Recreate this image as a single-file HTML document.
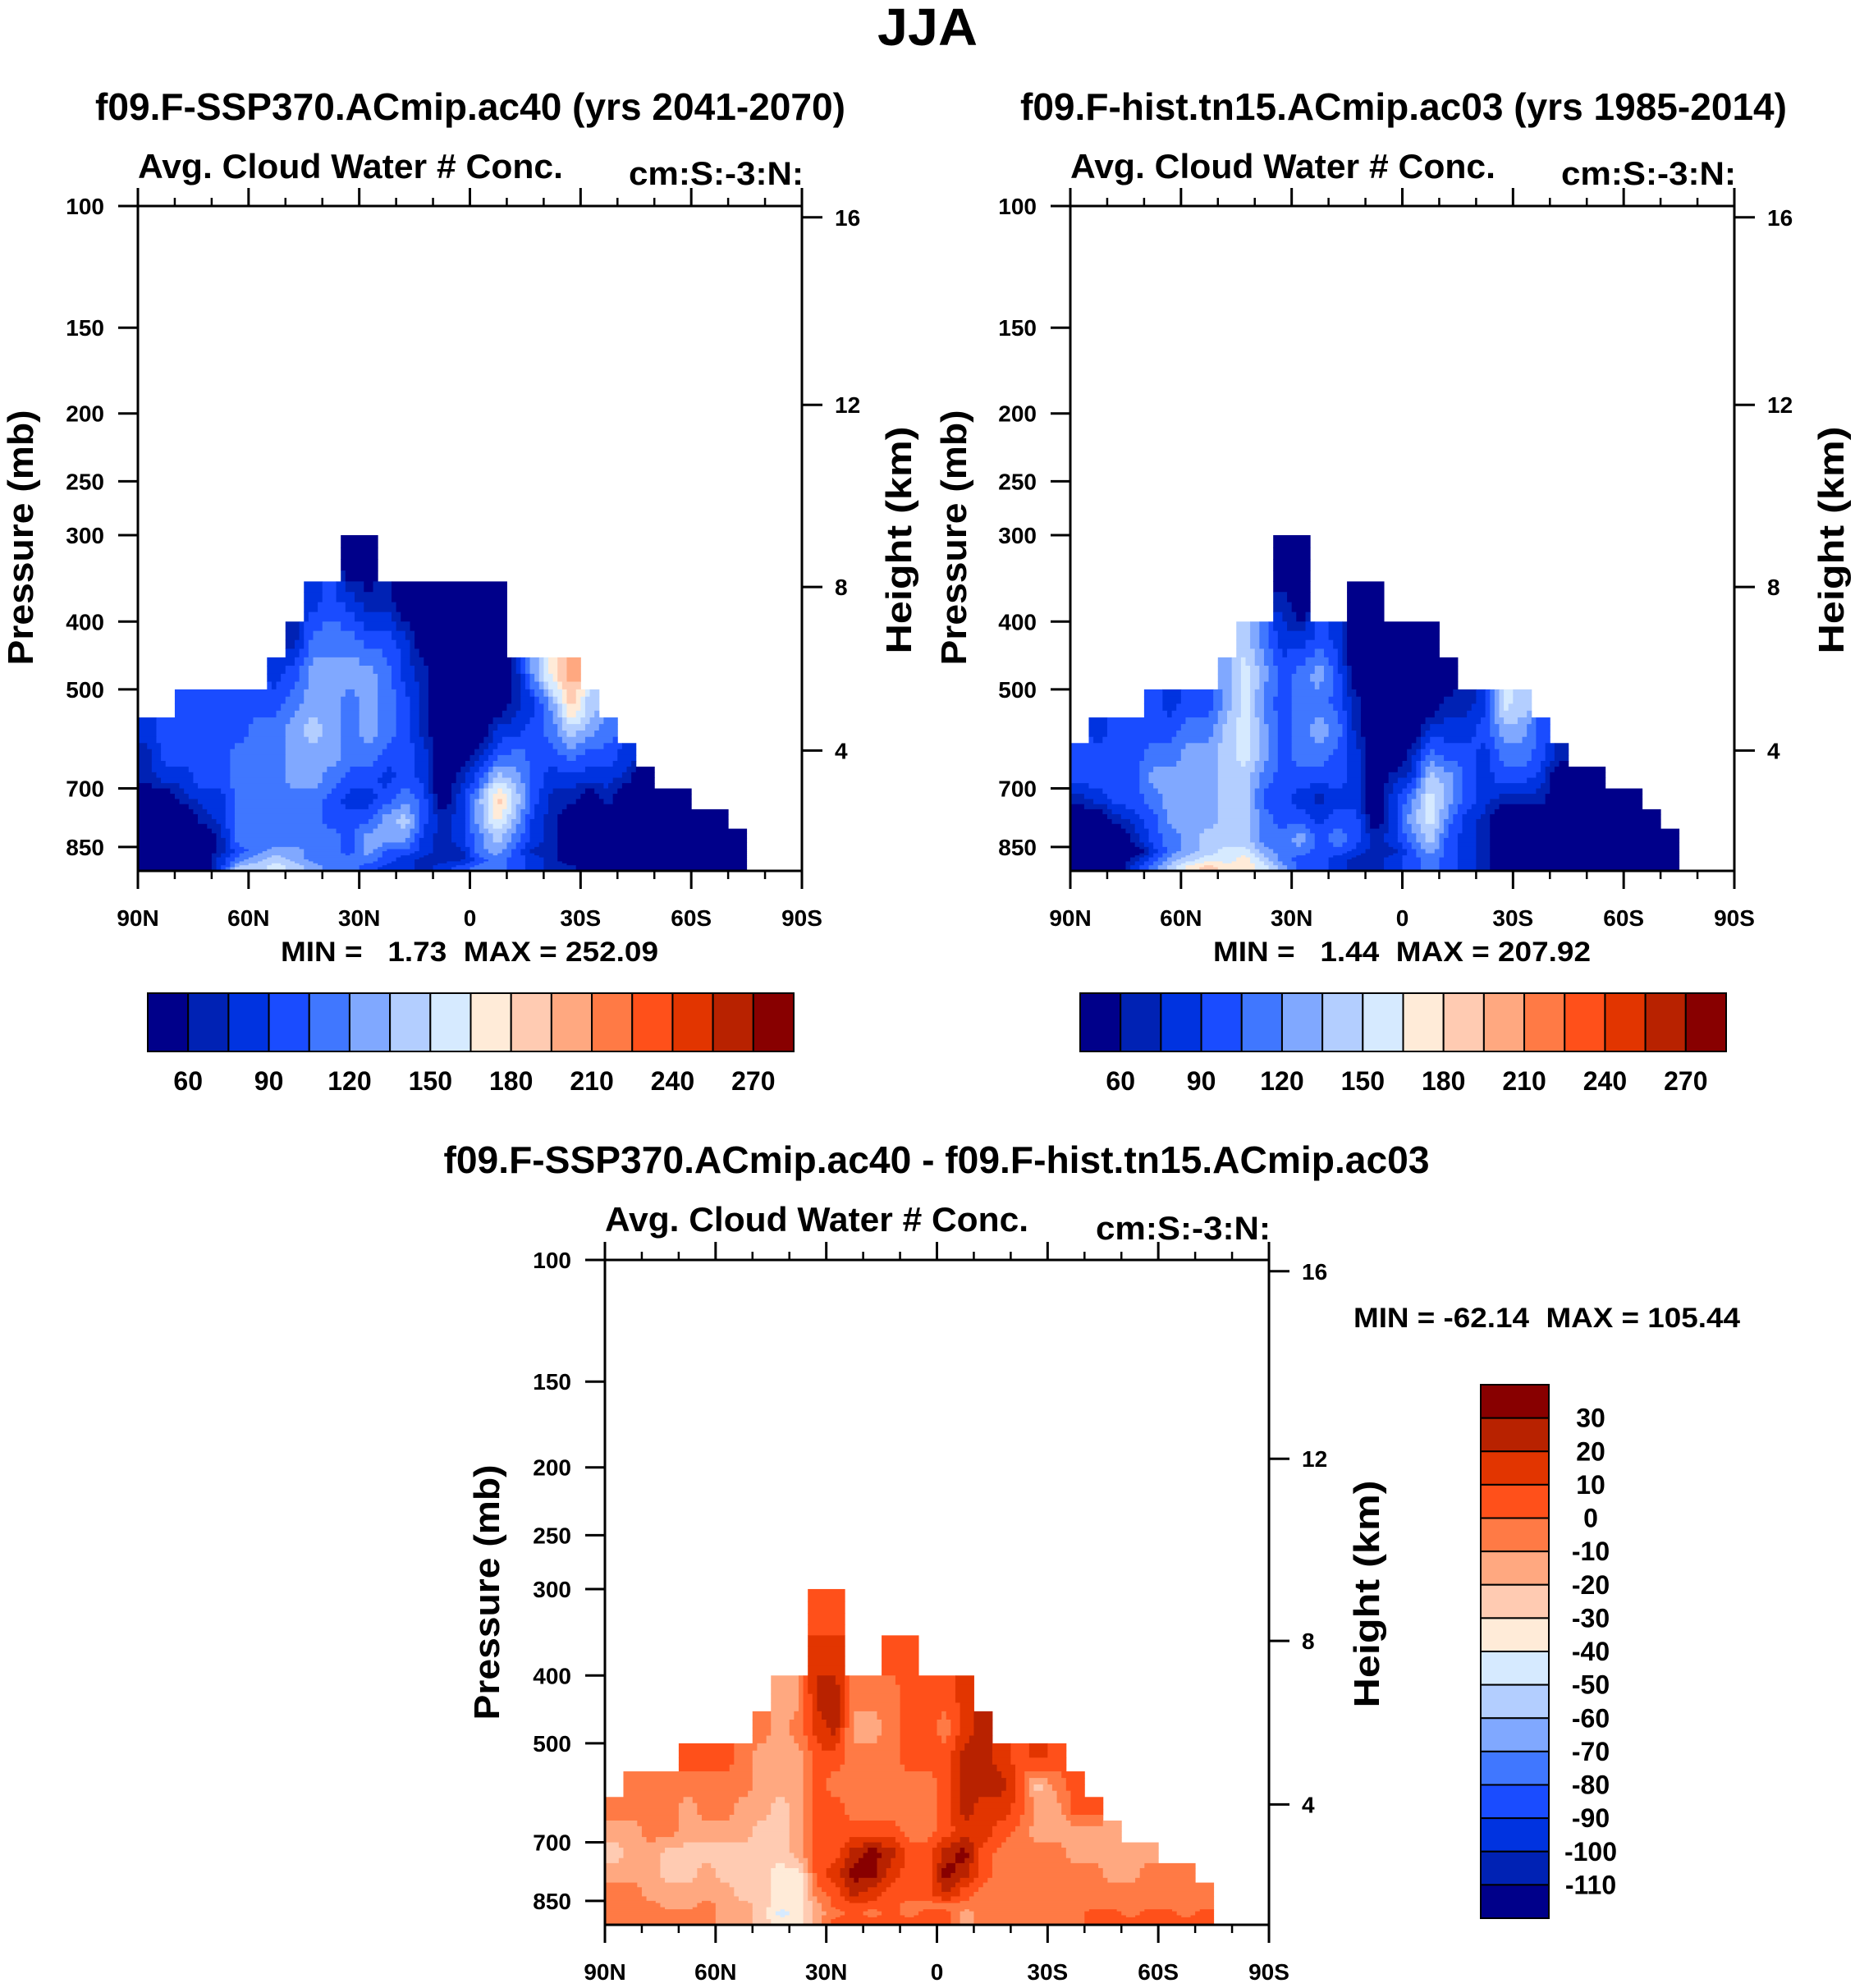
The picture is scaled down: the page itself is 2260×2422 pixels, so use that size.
<!DOCTYPE html>
<html><head><meta charset="utf-8"><title>JJA Avg. Cloud Water # Conc.</title>
<style>
body{margin:0;background:#fff}
svg text{font-family:"Liberation Sans",sans-serif;font-weight:bold;fill:#000}
</style></head><body>
<svg id="fig" width="2260" height="2417" viewBox="0 0 2260 2417" xmlns="http://www.w3.org/2000/svg">
<rect x="0" y="0" width="2260" height="2417" fill="#fff"/>
<text x="1130" y="55" font-size="64" text-anchor="middle" textLength="122" lengthAdjust="spacingAndGlyphs">JJA</text>

<text x="573" y="146" font-size="46" text-anchor="middle" textLength="914" lengthAdjust="spacingAndGlyphs">f09.F-SSP370.ACmip.ac40 (yrs 2041-2070)</text>
<text x="168" y="217" font-size="42" textLength="518" lengthAdjust="spacingAndGlyphs">Avg. Cloud Water # Conc.</text>
<text x="979" y="225" font-size="40" text-anchor="end" textLength="213" lengthAdjust="spacingAndGlyphs">cm:S:-3:N:</text>
<text transform="translate(40,655) rotate(-90)" font-size="44" text-anchor="middle" textLength="311" lengthAdjust="spacingAndGlyphs">Pressure (mb)</text>
<text transform="translate(1110,658) rotate(-90)" font-size="44" text-anchor="middle" textLength="277" lengthAdjust="spacingAndGlyphs">Height (km)</text>
<text x="342" y="1171" font-size="34" xml:space="preserve" textLength="460" lengthAdjust="spacingAndGlyphs">MIN =   1.73  MAX = 252.09</text>

<text x="1710" y="146" font-size="46" text-anchor="middle" textLength="934" lengthAdjust="spacingAndGlyphs">f09.F-hist.tn15.ACmip.ac03 (yrs 1985-2014)</text>
<text x="1304" y="217" font-size="42" textLength="518" lengthAdjust="spacingAndGlyphs">Avg. Cloud Water # Conc.</text>
<text x="2115" y="225" font-size="40" text-anchor="end" textLength="213" lengthAdjust="spacingAndGlyphs">cm:S:-3:N:</text>
<text transform="translate(1177,655) rotate(-90)" font-size="44" text-anchor="middle" textLength="311" lengthAdjust="spacingAndGlyphs">Pressure (mb)</text>
<text transform="translate(2246,658) rotate(-90)" font-size="44" text-anchor="middle" textLength="277" lengthAdjust="spacingAndGlyphs">Height (km)</text>
<text x="1478" y="1171" font-size="34" xml:space="preserve" textLength="460" lengthAdjust="spacingAndGlyphs">MIN =   1.44  MAX = 207.92</text>

<text x="1141" y="1429" font-size="46" text-anchor="middle" textLength="1201" lengthAdjust="spacingAndGlyphs">f09.F-SSP370.ACmip.ac40 - f09.F-hist.tn15.ACmip.ac03</text>
<text x="737" y="1500" font-size="42" textLength="516" lengthAdjust="spacingAndGlyphs">Avg. Cloud Water # Conc.</text>
<text x="1548" y="1510" font-size="40" text-anchor="end" textLength="213" lengthAdjust="spacingAndGlyphs">cm:S:-3:N:</text>
<text transform="translate(608,1940) rotate(-90)" font-size="44" text-anchor="middle" textLength="311" lengthAdjust="spacingAndGlyphs">Pressure (mb)</text>
<text transform="translate(1680,1942) rotate(-90)" font-size="44" text-anchor="middle" textLength="277" lengthAdjust="spacingAndGlyphs">Height (km)</text>
<text x="1649" y="1617" font-size="34" xml:space="preserve" textLength="471" lengthAdjust="spacingAndGlyphs">MIN = -62.14  MAX = 105.44</text>
</svg>
<script>
const N = null;
const colLats = [];
for (let i = 0; i < 36; i++) colLats.push(87.5 - 5 * i);
const presEdges = [300,350,400,450,500,550,600,650,700,750,800,850,900,950,1000];
const pressureTicks = [100,150,200,250,300,400,500,700,850];
const pressureTickLabels = ["100","150","200","250","300","400","500","700","850"];
const heightTicks = [16,12,8,4];
const latMajorTicks = [90,60,30,0,-30,-60,-90];
const latTickLabels = ["90N","60N","30N","0","30S","60S","90S"];
const latMinorTicks = [80,70,50,40,20,10,-10,-20,-40,-50,-70,-80];
const levelsAbs = [60,75,90,105,120,135,150,165,180,195,210,225,240,255,270];
const levelsDiff = [-110,-100,-90,-80,-70,-60,-50,-40,-30,-20,-10,0,10,20,30];
const absBarLabels = ["60","90","120","150","180","210","240","270"];
const diffBarLabels = ["30","20","10","0","-10","-20","-30","-40","-50","-60","-70","-80","-90","-100","-110"];
const palette = ["#00008a","#0022b4","#0033e0","#1a4cff","#4077ff","#80a8ff","#b3ceff","#d6eaff","#ffebd8","#ffcbb2","#ffa880","#ff7a45","#ff501a","#e23500","#b82200","#880000"];

const fieldA = [
[N,N,N,N,N,83,68,68,40,40,40,40,40,40],
[N,N,N,N,N,98,98,83,40,40,40,40,40,40],
[N,N,N,N,98,98,98,83,68,40,40,40,40,40],
[N,N,N,N,98,98,98,98,83,68,40,40,40,40],
[N,N,N,N,98,98,98,98,83,83,68,68,83,83],
[N,N,N,N,98,98,113,113,113,113,113,98,113,143],
[N,N,N,N,98,113,113,113,113,113,113,113,128,143],
[N,N,N,83,98,113,113,113,113,113,113,128,143,158],
[N,N,68,98,113,128,128,128,113,113,113,128,128,143],
[N,83,113,128,128,143,128,128,113,113,113,113,113,128],
[N,98,113,128,128,128,128,113,98,98,113,113,113,113],
[40,83,113,128,113,113,113,98,83,98,98,98,113,113],
[40,68,98,128,128,128,113,98,83,98,128,128,113,98],
[N,68,98,113,113,113,98,83,98,128,128,98,98,83],
[N,40,83,83,98,98,98,98,113,143,128,98,83,83],
[N,40,40,68,68,68,83,83,98,98,83,83,68,68],
[N,40,40,40,40,40,40,40,40,68,68,68,68,83],
[N,40,40,40,40,40,40,68,83,83,83,68,68,98],
[N,40,40,40,40,40,68,98,128,128,113,113,98,113],
[N,40,40,40,40,83,98,143,188,173,143,128,113,113],
[N,N,N,68,68,83,113,128,143,128,113,98,98,98],
[N,N,N,128,83,98,98,98,98,83,83,68,83,83],
[N,N,N,173,128,113,98,83,68,68,68,68,68,68],
[N,N,N,203,188,143,113,83,68,40,40,40,40,68],
[N,N,N,N,143,128,98,83,40,40,40,40,40,40],
[N,N,N,N,N,113,98,83,68,40,40,40,40,40],
[N,N,N,N,N,N,83,68,40,40,40,40,40,40],
[N,N,N,N,N,N,N,40,40,40,40,40,40,40],
[N,N,N,N,N,N,N,N,40,40,40,40,40,40],
[N,N,N,N,N,N,N,N,40,40,40,40,40,40],
[N,N,N,N,N,N,N,N,N,40,40,40,40,40],
[N,N,N,N,N,N,N,N,N,40,40,40,40,40],
[N,N,N,N,N,N,N,N,N,N,40,40,40,40],
[N,N,N,N,N,N,N,N,N,N,N,N,N,N],
[N,N,N,N,N,N,N,N,N,N,N,N,N,N],
[N,N,N,N,N,N,N,N,N,N,N,N,N,N]
];
const fieldB = [
[N,N,N,N,N,N,98,98,68,40,40,40,40,40],
[N,N,N,N,N,83,98,98,83,40,40,40,40,40],
[N,N,N,N,N,98,98,98,98,68,40,40,40,40],
[N,N,N,N,N,98,98,98,98,83,68,40,68,83],
[N,N,N,N,98,98,113,128,113,98,98,83,98,113],
[N,N,N,N,83,98,113,128,128,128,113,113,128,143],
[N,N,N,N,98,113,128,128,128,128,128,128,143,173],
[N,N,N,N,98,113,128,128,128,128,143,143,158,188],
[N,N,N,128,128,143,143,143,143,143,143,158,158,173],
[N,N,143,158,158,158,158,143,143,143,143,158,173,173],
[N,N,113,128,113,128,128,113,98,113,113,128,143,158],
[40,68,83,98,98,98,98,98,98,98,113,113,113,128],
[40,40,83,113,113,113,113,98,83,98,128,113,98,98],
[N,N,98,128,113,128,113,98,68,83,98,98,98,98],
[N,N,83,98,98,113,98,98,83,98,113,98,83,83],
[N,40,40,40,68,68,83,83,83,98,98,83,68,68],
[N,40,40,40,40,40,40,40,40,40,68,68,68,68],
[N,N,40,40,40,40,40,68,83,83,83,68,83,83],
[N,N,40,40,40,40,68,83,113,128,113,98,98,98],
[N,N,40,40,40,83,113,143,158,158,143,128,113,113],
[N,N,N,40,68,83,98,128,128,113,98,98,98,98],
[N,N,N,N,68,83,98,98,98,83,83,83,83,83],
[N,N,N,N,83,98,83,83,83,68,68,68,68,68],
[N,N,N,N,158,128,113,98,68,40,40,40,40,40],
[N,N,N,N,143,128,113,98,68,40,40,40,40,40],
[N,N,N,N,N,98,98,83,68,40,40,40,40,40],
[N,N,N,N,N,N,68,40,40,40,40,40,40,40],
[N,N,N,N,N,N,N,40,40,40,40,40,40,40],
[N,N,N,N,N,N,N,40,40,40,40,40,40,40],
[N,N,N,N,N,N,N,N,40,40,40,40,40,40],
[N,N,N,N,N,N,N,N,40,40,40,40,40,40],
[N,N,N,N,N,N,N,N,N,40,40,40,40,40],
[N,N,N,N,N,N,N,N,N,N,40,40,40,40],
[N,N,N,N,N,N,N,N,N,N,N,N,N,N],
[N,N,N,N,N,N,N,N,N,N,N,N,N,N],
[N,N,N,N,N,N,N,N,N,N,N,N,N,N]
];
const fieldD = [
[N,N,N,N,N,N,-5,-15,-25,-15,-5,-5,-5,-5],
[N,N,N,N,N,-5,-5,-15,-15,-15,-5,-5,-5,-5],
[N,N,N,N,N,-5,-5,-5,-15,-15,-15,-5,-5,-5],
[N,N,N,N,N,-5,-5,-5,-25,-25,-15,-15,-5,-5],
[N,N,N,N,5,-5,-15,-15,-25,-25,-15,-15,-5,-5],
[N,N,N,N,5,-5,-5,-15,-25,-15,-15,-5,-5,-5],
[N,N,N,N,5,-5,-5,-15,-25,-25,-15,-15,-15,-15],
[N,N,N,N,-5,-5,-15,-15,-25,-25,-25,-15,-15,-15],
[N,N,N,-5,-15,-15,-15,-25,-25,-25,-25,-25,-25,-25],
[N,N,-15,-15,-15,-15,-25,-25,-25,-35,-35,-35,-45,-35],
[N,N,-15,-5,-15,-15,-15,-15,-15,-35,-35,-35,-35,-35],
[5,15,25,15,5,5,5,5,5,5,-5,-15,-15,-15],
[5,15,25,25,5,-5,5,5,5,15,5,5,-5,5],
[N,N,-5,-15,-5,-5,-5,5,25,35,25,5,5,5],
[N,N,-5,-15,-5,-5,-5,5,35,35,15,5,-5,5],
[N,5,-5,-5,-5,-5,-5,5,25,15,5,5,5,5],
[N,5,5,5,5,-5,-5,-5,5,5,5,-5,-5,5],
[N,N,5,5,5,-5,-5,-5,5,5,5,-5,5,5],
[N,N,5,-5,5,5,5,5,25,35,25,-5,5,5],
[N,N,15,15,25,25,25,15,35,25,5,-5,-15,-15],
[N,N,N,25,25,25,15,15,5,5,-5,-5,-5,-5],
[N,N,N,N,15,25,15,5,-5,-5,-5,-5,-5,-5],
[N,N,N,N,5,5,5,-5,-5,-5,-5,-5,-5,-5],
[N,N,N,N,15,-25,-15,-15,-5,-5,-5,-5,-5,-5],
[N,N,N,N,5,-5,-15,-15,-5,-5,-5,-5,-5,-5],
[N,N,N,N,N,5,5,-15,-15,-5,-5,-5,-5,-5],
[N,N,N,N,N,N,5,-15,-15,-5,-5,-5,5,5],
[N,N,N,N,N,N,N,-15,-15,-15,-5,-5,5,5],
[N,N,N,N,N,N,N,N,-15,-15,-5,-5,-5,5],
[N,N,N,N,N,N,N,N,-15,-5,-5,-5,5,5],
[N,N,N,N,N,N,N,N,N,-5,-5,-5,5,5],
[N,N,N,N,N,N,N,N,N,-5,-5,-5,-5,5],
[N,N,N,N,N,N,N,N,N,N,-5,-5,5,5],
[N,N,N,N,N,N,N,N,N,N,N,N,N,N],
[N,N,N,N,N,N,N,N,N,N,N,N,N,N],
[N,N,N,N,N,N,N,N,N,N,N,N,N,N]
];

const SVGNS = "http://www.w3.org/2000/svg";
const svg = document.getElementById("fig");
const PW = 809, PH = 810;
const SUB = 4;
const pAnchorP = [100,150,200,250,300,400,500,700,850,1000];
const pAnchorF = [0,0.183,0.312,0.414,0.495,0.625,0.727,0.876,0.964,1];
const hAnchorH = [16,12,8,4];
const hAnchorF = [0.017,0.299,0.573,0.819];

function pFrac(p) {
  const lp = Math.log(p);
  for (let i = 0; i < pAnchorP.length - 1; i++) {
    const a = Math.log(pAnchorP[i]), b = Math.log(pAnchorP[i + 1]);
    if (lp <= b || i === pAnchorP.length - 2) {
      return pAnchorF[i] + (lp - a) / (b - a) * (pAnchorF[i + 1] - pAnchorF[i]);
    }
  }
}
function hFrac(h) { return hAnchorF[hAnchorH.indexOf(h)]; }
function classOf(v, levels) {
  let c = 0;
  for (const l of levels) if (v >= l) c++;
  return c;
}
function mk(tag, attrs) {
  const e = document.createElementNS(SVGNS, tag);
  for (const k in attrs) e.setAttribute(k, attrs[k]);
  svg.appendChild(e);
  return e;
}
function getv(field, c, r) {
  if (c < 0 || c >= field.length || r < 0 || r >= field[c].length) return null;
  return field[c][r];
}
// bilinear sample at fractional cell coordinates (cell centres at integer+0.5)
function sample(field, u, v) {
  const cu = u - 0.5, cv = v - 0.5;
  const c0 = Math.floor(cu), r0 = Math.floor(cv);
  const fu = cu - c0, fv = cv - r0;
  let s = 0, w = 0;
  const pts = [[c0, r0, (1 - fu) * (1 - fv)], [c0 + 1, r0, fu * (1 - fv)], [c0, r0 + 1, (1 - fu) * fv], [c0 + 1, r0 + 1, fu * fv]];
  for (const [c, r, ww] of pts) {
    const val = getv(field, c, r);
    if (val !== null && ww > 0) { s += val * ww; w += ww; }
  }
  return w > 0 ? s / w : getv(field, Math.floor(u), Math.floor(v));
}

function drawPanel(pid, ox, oy, field, levels) {
  const xOf = lat => ox + (90 - lat) / 180 * PW;
  const yOf = p => oy + pFrac(p) * PH;
  const nR = presEdges.length - 1;
  for (let r = 0; r < nR; r++) {
    for (let sr = 0; sr < SUB; sr++) {
      const pTop = presEdges[r] + (presEdges[r + 1] - presEdges[r]) * sr / SUB;
      const pBot = presEdges[r] + (presEdges[r + 1] - presEdges[r]) * (sr + 1) / SUB;
      const y0 = yOf(pTop), y1 = yOf(pBot);
      const v = r + (sr + 0.5) / SUB;
      let runStart = null, runCls = -1;
      const flush = (endX) => {
        if (runStart === null) return;
        const cell = mk("rect", {x: runStart.toFixed(2), y: y0.toFixed(2), width: (endX - runStart + 0.5).toFixed(2), height: (y1 - y0 + 0.5).toFixed(2), fill: palette[runCls]});
        
        
        runStart = null; runCls = -1;
      };
      for (let c = 0; c < field.length; c++) {
        const base = field[c][r];
        for (let sc = 0; sc < SUB; sc++) {
          const x0 = xOf(colLats[c] + 2.5 - 5 * sc / SUB);
          if (base === null) { flush(x0); continue; }
          const u = c + (sc + 0.5) / SUB;
          const cls = classOf(sample(field, u, v), levels);
          if (cls !== runCls) { flush(x0); runStart = x0; runCls = cls; }
        }
      }
      flush(xOf(-90));
    }
  }
  const frame = mk("rect", {x: ox, y: oy, width: PW, height: PH, fill: "none", stroke: "#000", "stroke-width": 3});
  
  
  latMajorTicks.forEach((lat, i) => {
    const x = xOf(lat);
    const t1 = mk("line", {x1: x, y1: oy, x2: x, y2: oy - 22, stroke: "#000", "stroke-width": 3});
    
    
    const t2 = mk("line", {x1: x, y1: oy + PH, x2: x, y2: oy + PH + 22, stroke: "#000", "stroke-width": 3});
    
    
    const lb = mk("text", {x: x, y: oy + 877, "font-size": 28, "text-anchor": "middle"});
    lb.textContent = latTickLabels[i];
    
    
  });
  latMinorTicks.forEach(lat => {
    const x = xOf(lat);
    const t1 = mk("line", {x1: x, y1: oy, x2: x, y2: oy - 10, stroke: "#000", "stroke-width": 2.5});
    
    
    const t2 = mk("line", {x1: x, y1: oy + PH, x2: x, y2: oy + PH + 10, stroke: "#000", "stroke-width": 2.5});
    
    
  });
  pressureTicks.forEach((p, i) => {
    const y = yOf(p);
    const t = mk("line", {x1: ox - 24, y1: y, x2: ox, y2: y, stroke: "#000", "stroke-width": 3});
    
    
    const lb = mk("text", {x: ox - 41, y: y + 10, "font-size": 28, "text-anchor": "end"});
    lb.textContent = pressureTickLabels[i];
    
    
  });
  heightTicks.forEach(h => {
    const y = oy + hFrac(h) * PH;
    const t = mk("line", {x1: ox + PW, y1: y, x2: ox + PW + 25, y2: y, stroke: "#000", "stroke-width": 3});
    
    
    const lb = mk("text", {x: ox + PW + 40, y: y + 10, "font-size": 28});
    lb.textContent = String(h);
    
    
  });
}

function drawHBar(pid, x0, y0, w, h) {
  const bw = w / palette.length;
  palette.forEach((col, i) => {
    const b = mk("rect", {x: x0 + i * bw, y: y0, width: bw, height: h, fill: col, stroke: "#000", "stroke-width": 2});
    
    
  });
  absBarLabels.forEach((lab, k) => {
    const lb = mk("text", {x: x0 + (1 + 2 * k) * bw, y: y0 + 118, "font-size": 32, "text-anchor": "middle"});
    lb.textContent = lab;
    
    
  });
}
function drawVBar(pid, x0, y0, w, h) {
  const bh = h / palette.length;
  for (let i = 0; i < palette.length; i++) {
    const b = mk("rect", {x: x0, y: y0 + i * bh, width: w, height: bh, fill: palette[palette.length - 1 - i], stroke: "#000", "stroke-width": 2});
    
    
  }
  diffBarLabels.forEach((lab, k) => {
    const lb = mk("text", {x: 1938, y: y0 + (k + 1) * bh + 11, "font-size": 32, "text-anchor": "middle"});
    lb.textContent = lab;
    
    
  });
}

drawPanel("panel1", 168, 251, fieldA, levelsAbs);
drawPanel("panel2", 1304, 251, fieldB, levelsAbs);
drawPanel("panel3", 737, 1535, fieldD, levelsDiff);
drawHBar("panel1", 180, 1210, 787, 71);
drawHBar("panel2", 1316, 1210, 787, 71);
drawVBar("panel3", 1804, 1687, 83, 650);
</script>
</body></html>
